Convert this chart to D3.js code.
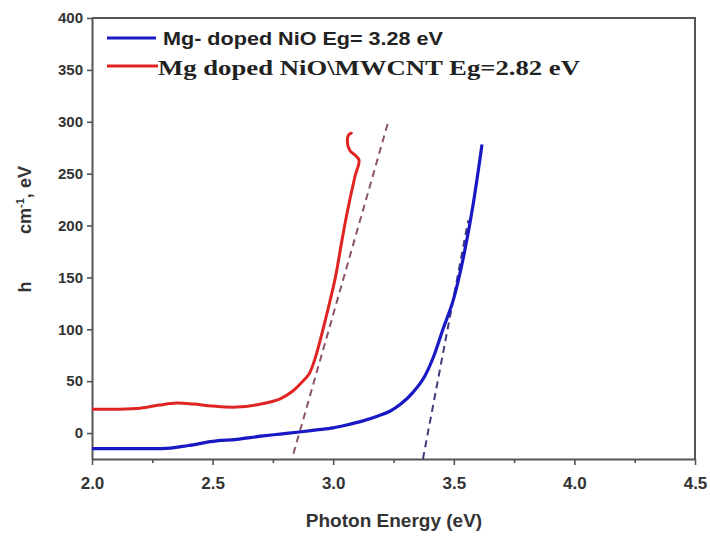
<!DOCTYPE html>
<html>
<head>
<meta charset="utf-8">
<script src="https://cdn.jsdelivr.net/npm/d3@7"></script>
<style>
  body { margin: 0; background: #fff; }
  svg { display: block; }
</style>
</head>
<body>
<div id="chart"></div>
<script>
(function() {
    'use strict';

    // Mg-doped NiO (blue)
    var blueX = [2.0, 2.1, 2.2, 2.29, 2.4, 2.5, 2.6, 2.7, 2.78, 2.86, 2.93, 3.0, 3.06, 3.12, 3.18, 3.235, 3.28, 3.33, 3.38, 3.42, 3.455, 3.5, 3.535, 3.58, 3.617];
    var blueY = [-15, -15, -15, -15, -12, -8, -6, -3, -1, 1, 3, 5, 8, 11.5, 16, 21, 28, 39, 55, 76, 100, 130, 164, 220, 278];
    // Mg doped NiO\MWCNT (red), ends with a small hook
    var redX = [2.0, 2.1, 2.2, 2.28, 2.35, 2.42, 2.5, 2.6, 2.7, 2.78, 2.83, 2.87, 2.9, 2.925, 2.95, 2.978, 3.01, 3.035, 3.06, 3.09, 3.107, 3.09, 3.07, 3.06, 3.063, 3.075];
    var redY = [23, 23, 24, 27, 29, 28, 26, 25, 28, 33, 40, 49, 57, 72, 93, 119, 151, 184, 215, 247, 263, 268, 272, 278, 287, 289];
    // tangent (extrapolation) lines
    var redFitX = [2.835, 3.227];
    var redFitY = [-20, 299];
    var blueFitX = [3.372, 3.56];
    var blueFitY = [-25, 205];

    var xTicks = [2.0, 2.5, 3.0, 3.5, 4.0, 4.5];
    var xMinor = [2.25, 2.75, 3.25, 3.75, 4.25];
    var yTicks = [0, 50, 100, 150, 200, 250, 300, 350, 400];

    var legendLabels = ["Mg- doped NiO Eg= 3.28 eV", "Mg doped NiO\\MWCNT Eg=2.82 eV"];

    var width = 710, height = 538;
    var margin = { top: 18, right: 15, bottom: 79, left: 92 };

    var svg = d3.select("#chart").append("svg")
        .attr("width", width)
        .attr("height", height);

    var x = d3.scaleLinear().domain([2.0, 4.5]).range([margin.left, width - margin.right]);
    var y = d3.scaleLinear().domain([-25, 400]).range([height - margin.bottom, margin.top]);

    var axisColor = "#555";

    svg.append("defs").append("clipPath").attr("id", "plotclip")
        .append("rect")
        .attr("x", x(2.0)).attr("y", y(400))
        .attr("width", x(4.5) - x(2.0)).attr("height", y(-25) - y(400));

    // axes
    var xAxis = svg.append("g")
        .attr("transform", "translate(0," + y(-25) + ")")
        .call(d3.axisBottom(x).tickValues(xTicks).tickFormat(d3.format(".1f")).tickSizeInner(6).tickSizeOuter(0).tickPadding(12));
    svg.append("g")
        .attr("transform", "translate(0," + y(-25) + ")")
        .call(d3.axisBottom(x).tickValues(xMinor).tickFormat("").tickSizeInner(4).tickSizeOuter(0))
        .select(".domain").remove();
    var yAxis = svg.append("g")
        .attr("transform", "translate(" + x(2.0) + ",0)")
        .call(d3.axisLeft(y).tickValues(yTicks).tickSizeInner(5).tickSizeOuter(0).tickPadding(4));

    svg.selectAll(".domain").attr("stroke", axisColor).attr("stroke-width", 2);
    svg.selectAll(".tick line").attr("stroke", axisColor).attr("stroke-width", 1.6);
    xAxis.selectAll("text")
        .attr("fill", "#333")
        .style("font-family", "Liberation Sans, Arial, sans-serif")
        .style("font-weight", "bold")
        .style("font-size", "17px");
    yAxis.selectAll("text")
        .attr("fill", "#333")
        .style("font-family", "Liberation Sans, Arial, sans-serif")
        .style("font-weight", "bold")
        .style("font-size", "15px");

    // frame top/right
    svg.append("path")
        .attr("d", "M" + x(2.0) + "," + y(400) + "H" + x(4.5) + "V" + y(-25))
        .attr("fill", "none")
        .attr("stroke", axisColor)
        .attr("stroke-width", 2);

    var plot = svg.append("g").attr("clip-path", "url(#plotclip)");

    function pairs(xs, ys) {
        return xs.map(function(d, i) { return [d, ys[i]]; });
    }

    var line = d3.line()
        .x(function(d) { return x(d[0]); })
        .y(function(d) { return y(d[1]); })
        .curve(d3.curveCatmullRom.alpha(0.5));
    var lineMono = d3.line()
        .x(function(d) { return x(d[0]); })
        .y(function(d) { return y(d[1]); })
        .curve(d3.curveMonotoneX);

    plot.append("path")
        .datum(pairs(redFitX, redFitY))
        .attr("d", line)
        .attr("fill", "none")
        .attr("stroke", "#8a5468")
        .attr("stroke-width", 2)
        .attr("stroke-dasharray", "7,5");

    plot.append("path")
        .datum(pairs(blueFitX, blueFitY))
        .attr("d", line)
        .attr("fill", "none")
        .attr("stroke", "#3c3c7a")
        .attr("stroke-width", 2)
        .attr("stroke-dasharray", "7,5");

    plot.append("path")
        .datum(pairs(blueX, blueY))
        .attr("d", lineMono)
        .attr("fill", "none")
        .attr("stroke", "#1818c4")
        .attr("stroke-width", 3.2)
        .attr("stroke-linejoin", "round");

    plot.append("path")
        .datum(pairs(redX, redY))
        .attr("d", line)
        .attr("fill", "none")
        .attr("stroke", "#e02424")
        .attr("stroke-width", 3)
        .attr("stroke-linejoin", "round")
        .attr("stroke-linecap", "round");

    // legend
    var legend = svg.append("g");
    legend.append("line").attr("x1", 107).attr("x2", 156).attr("y1", 38).attr("y2", 38)
        .attr("stroke", "#1818c4").attr("stroke-width", 3);
    legend.append("text")
        .attr("x", 163).attr("y", 45)
        .attr("textLength", 280).attr("lengthAdjust", "spacingAndGlyphs")
        .style("font-family", "Liberation Sans, Arial, sans-serif")
        .style("font-weight", "bold")
        .style("font-size", "19px")
        .attr("fill", "#222")
        .text(legendLabels[0]);
    legend.append("line").attr("x1", 107).attr("x2", 158).attr("y1", 66).attr("y2", 66)
        .attr("stroke", "#e02424").attr("stroke-width", 3);
    legend.append("text")
        .attr("x", 158).attr("y", 75)
        .attr("textLength", 422).attr("lengthAdjust", "spacingAndGlyphs")
        .style("font-family", "Liberation Serif, Times New Roman, serif")
        .style("font-weight", "bold")
        .style("font-size", "22px")
        .attr("fill", "#222")
        .text(legendLabels[1]);

    // axis titles
    svg.append("text")
        .attr("x", 394).attr("y", 527)
        .attr("text-anchor", "middle")
        .style("font-family", "Liberation Sans, Arial, sans-serif")
        .style("font-weight", "bold")
        .style("font-size", "19px")
        .attr("fill", "#333")
        .text("Photon Energy (eV)");

    svg.append("text")
        .attr("transform", "translate(31,287) rotate(-90)")
        .attr("text-anchor", "middle")
        .style("font-family", "Liberation Sans, Arial, sans-serif")
        .style("font-weight", "bold")
        .style("font-size", "18px")
        .attr("fill", "#333")
        .text("h");
    var yt2 = svg.append("text")
        .attr("transform", "translate(31,200) rotate(-90)")
        .attr("text-anchor", "middle")
        .style("font-family", "Liberation Sans, Arial, sans-serif")
        .style("font-weight", "bold")
        .style("font-size", "18px")
        .attr("fill", "#333");
    yt2.append("tspan").text("cm");
    yt2.append("tspan").attr("dy", -7).style("font-size", "11px").text("-1");
    yt2.append("tspan").attr("dy", 7).text(", eV");
})();
</script>
</body>
</html>
